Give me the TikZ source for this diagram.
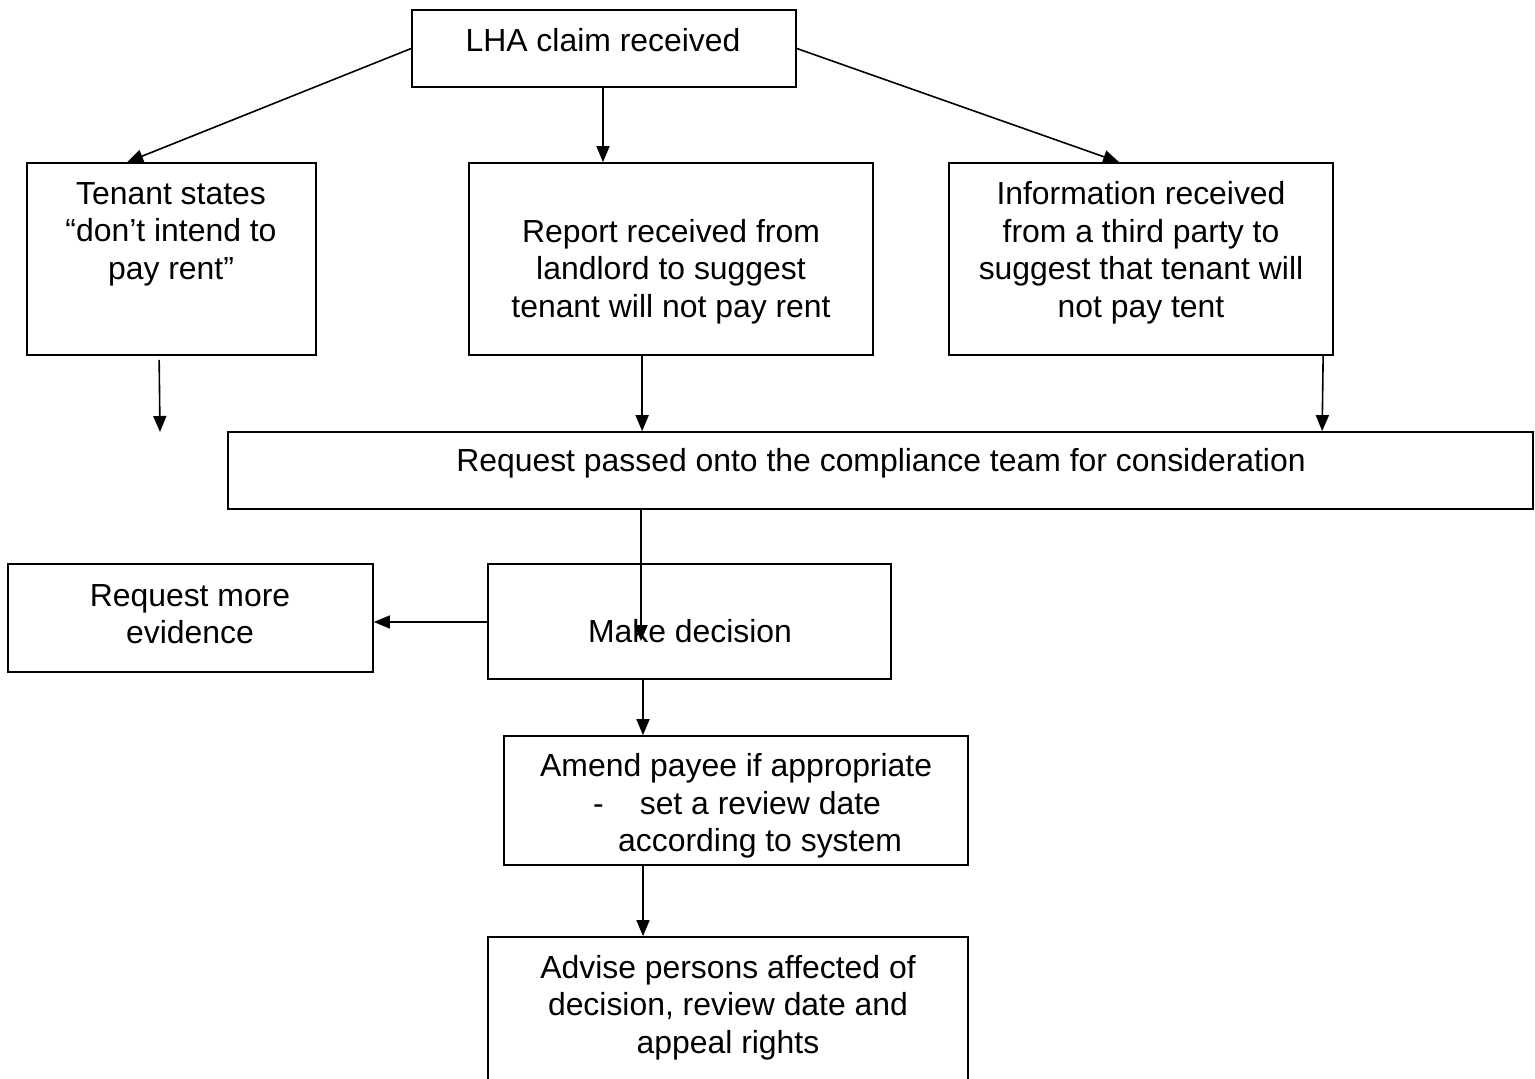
\documentclass[tikz,border=0pt]{standalone}
\usepackage{fontspec}
\setmainfont{Liberation Sans}
\usetikzlibrary{arrows.meta,calc}
\begin{document}
\begin{tikzpicture}[x=1pt,y=-1pt,
  box/.style={draw, line width=1.7pt, rectangle, inner sep=0pt},
  txt/.style={inner sep=0pt, align=center, font=\fontsize{31.9}{37.5}\selectfont},
  arr/.style={line width=1.6pt, -{Triangle[length=16pt,width=13pt]}}]
\useasboundingbox (0,0) rectangle (1535,1079);
% boxes
\node[box, minimum width=384pt, minimum height=77pt] (lha) at (604,48.5) {};
\node[box, minimum width=289pt, minimum height=192pt] (tenant) at (171.5,259) {};
\node[box, minimum width=404pt, minimum height=192pt] (report) at (671,259) {};
\node[box, minimum width=384pt, minimum height=192pt] (info) at (1141,259) {};
\node[box, minimum width=1305pt, minimum height=77pt] (req) at (880.5,470.5) {};
\node[box, minimum width=365pt, minimum height=108pt] (evid) at (190.5,618) {};
\node[box, minimum width=403pt, minimum height=115pt] (decision) at (689.5,621.5) {};
\node[box, minimum width=464pt, minimum height=129pt] (amend) at (736,800.5) {};
\node[box, minimum width=480pt, minimum height=160pt] (advise) at (728,1017) {};
% texts
\node[txt] (tlha) at (603,40) {LHA claim received};
\node[txt] (ttenant) at (171,234) {Tenant states\\“don’t intend to\\pay rent”};
\node[txt] (treport) at (671,271.5) {Report received from\\landlord to suggest\\tenant will not pay rent};
\node[txt] (tinfo) at (1141,252.5) {Information received\\from a third party to\\suggest that tenant will\\not pay tent};
\node[txt] (treq) at (881,463) {Request passed onto the compliance team for consideration};
\node[txt] (tevid) at (190,614) {Request more\\evidence};
\node[txt] (tdec) at (690,631) {Make decision};
\node[txt, align=left, anchor=west] (tamend) at (540,806) {Amend payee if appropriate\\\hspace{53pt}-\hspace{36pt}set a review date\\\hspace{78pt}according to system};
\node[txt] (tadv) at (728,1007.5) {Advise persons affected of\\decision, review date and\\appeal rights};
% free ends
\coordinate (tfree) at (160,432);
\coordinate (dtip) at (641,641);
% connectors
\draw[arr] (lha.west) -- ([xshift=101pt]tenant.north west);
\draw[arr] ([xshift=-1pt]lha.south) -- ([xshift=-1pt]lha.south |- report.north);
\draw[arr] (lha.east) -- ([xshift=171pt]info.north west);
\draw[arr] ([xshift=133pt,yshift=-4pt]tenant.south west) -- (tfree);
\draw[arr] ([xshift=174pt]report.south west) -- ([xshift=174pt]report.south west |- req.north);
\draw[arr] ([xshift=375pt]info.south west) -- ([xshift=374pt]info.south west |- req.north);
\draw[arr] (req.south -| dtip) -- (dtip);
\draw[arr] (decision.west |- 0,622) -- (evid.east |- 0,622);
\draw[arr] (decision.south -| 643,0) -- (amend.north -| 643,0);
\draw[arr] (amend.south -| 643,0) -- (advise.north -| 643,0);
\end{tikzpicture}
\end{document}
